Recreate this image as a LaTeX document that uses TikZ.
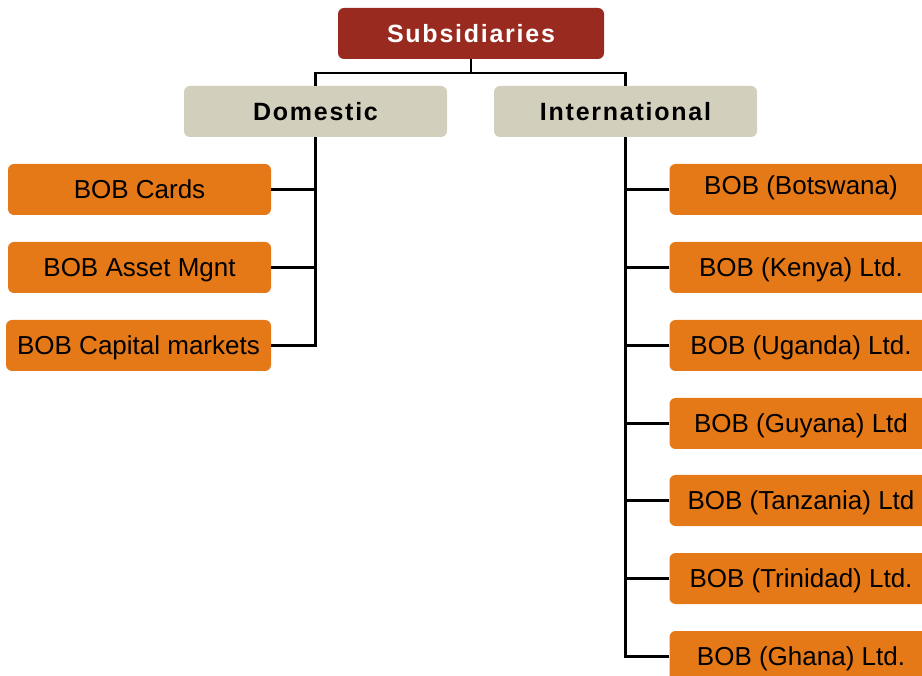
\documentclass[tikz,border=0pt]{standalone}
\usepackage{fontspec}
\setmainfont{Liberation Sans}
\newfontfamily\hdrfont[LetterSpace=7]{Liberation Sans}
\definecolor{subred}{HTML}{982A20}
\definecolor{beige}{HTML}{D2CFBC}
\definecolor{bobor}{HTML}{E57817}
\begin{document}
\begin{tikzpicture}[x=1pt,y=-1pt,
  hdrbox/.style={rounded corners=6pt, inner sep=0pt, minimum width=263pt, minimum height=51pt,
    font=\hdrfont\bfseries\fontsize{25}{30}\selectfont, text height=17.9pt, text depth=0pt},
  subbox/.style={hdrbox, fill=subred, text=white, minimum width=266pt},
  grpbox/.style={hdrbox, fill=beige, text=black},
  leaffont/.style={font=\fontsize{26}{31}\selectfont, text height=18.6pt, text depth=0pt},
  leafbox/.style={rounded corners=6pt, inner sep=0pt, fill=bobor, text=black, minimum width=263pt, minimum height=51pt, leaffont},
  conn/.style={draw=black, line width=2.5pt}]
\useasboundingbox (0,0) rectangle (922,676);
\clip (0,0) rectangle (922,676);
% top
\node[subbox] (sub) at (471,33.5) {Subsidiaries};
\node[grpbox] (dom) at (315.5,111.5) {Domestic};
\node[grpbox] (intl) at (625.5,111.5) {International};
% domestic leaves
\node[leafbox] (l1) at (139.5,189.5) {BOB Cards};
\node[leafbox] (l2) at (139.5,267.5) {BOB Asset Mgnt};
\node[leafbox, minimum width=265pt] (l3) at (138.5,345.5) {BOB Capital markets};
% international leaves
\node[leafbox, path picture={
    \node[leaffont, inner sep=0pt] at ([yshift=4pt]path picture bounding box.center) {BOB (Botswana)};
    \node[leaffont, inner sep=0pt] at ([yshift=-36pt]path picture bounding box.center) {Ltd.};
  }] (r1) at (801,189.5) {};
\node[leafbox] (r2) at (801,267.5) {BOB (Kenya) Ltd.};
\node[leafbox] (r3) at (801,345.5) {BOB (Uganda) Ltd.};
\node[leafbox] (r4) at (801,423.5) {BOB (Guyana) Ltd};
\node[leafbox] (r5) at (801,500.5) {BOB (Tanzania) Ltd};
\node[leafbox] (r6) at (801,578.5) {BOB (Trinidad) Ltd.};
\node[leafbox] (r7) at (801,656.5) {BOB (Ghana) Ltd.};
% connectors
\draw[conn] (sub.south) -- ++(0,14) coordinate (bus);
\draw[conn] (dom.north) |- (bus) -| (intl.north);
\draw[conn] (dom.south) |- (l3.east);
\draw[conn] (l1.east) -- (l1.east -| dom.south);
\draw[conn] (l2.east) -- (l2.east -| dom.south);
\draw[conn] (intl.south) |- (r7.west);
\foreach \n in {r1,r2,r3,r4,r5,r6}{
  \draw[conn] (\n.west) -- (\n.west -| intl.south);
}
\end{tikzpicture}
\end{document}
